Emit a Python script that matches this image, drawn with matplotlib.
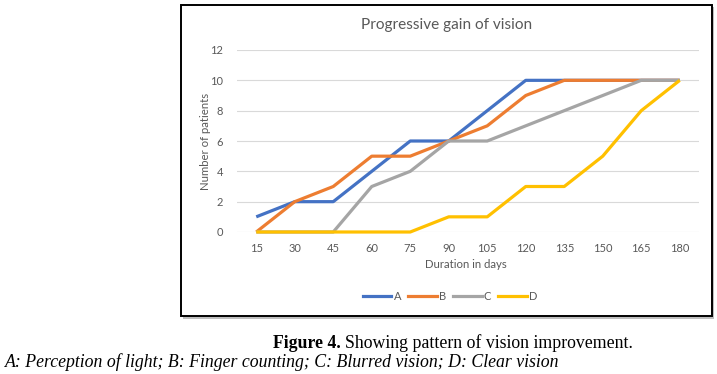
import matplotlib
matplotlib.use("Agg")
import matplotlib.pyplot as plt
from matplotlib.patches import Rectangle
from matplotlib.lines import Line2D

days = [15, 30, 45, 60, 75, 90, 105, 120, 135, 150, 165, 180]
series_names = ["A", "B", "C", "D"]
A = [1, 2, 2, 4, 6, 6, 8, 10, 10, 10, 10, 10]
B = [0, 2, 3, 5, 5, 6, 7, 9, 10, 10, 10, 10]
C = [0, 0, 0, 3, 4, 6, 6, 7, 8, 9, 10, 10]
D = [0, 0, 0, 0, 0, 1, 1, 3, 3, 5, 8, 10]
colors = ["#4472C4", "#ED7D31", "#A5A5A5", "#FFC000"]
yticks = [0, 2, 4, 6, 8, 10, 12]

W, H = 717, 374
fig = plt.figure(figsize=(W / 100, H / 100), dpi=100)
fig.patch.set_facecolor("white")

def fx(px):
    return px / W

def fy(py):
    return 1 - py / H

# chart box with shadow
fig.patches.append(Rectangle((fx(183), fy(319)), fx(714) - fx(183), fy(7) - fy(319),
                             transform=fig.transFigure, facecolor="#BFBFBF", edgecolor="none", zorder=0))
fig.patches.append(Rectangle((fx(181), fy(316)), fx(712) - fx(181), fy(5) - fy(316),
                             transform=fig.transFigure, facecolor="white", edgecolor="black",
                             linewidth=1.4, zorder=1))

ax = fig.add_axes([fx(237), fy(232), fx(699) - fx(237), fy(50) - fy(232)])
ax.set_zorder(2)
ax.patch.set_alpha(0)

x = list(range(len(days)))
for name, vals, col in zip(series_names, [A, B, C, D], colors):
    ax.plot(x, vals, color=col, linewidth=2.3, label=name, solid_capstyle="butt",
            solid_joinstyle="round", zorder=3, clip_on=False)

ax.set_xlim(-0.5, len(days) - 0.5)
ax.set_ylim(0, 12)
ax.set_yticks(yticks)
ax.set_yticklabels([str(v) for v in yticks])
ax.set_xticks(x)
ax.set_xticklabels([str(d) for d in days])
ax.grid(axis="y", color="#D9D9D9", linewidth=0.8)
ax.set_axisbelow(True)
for s in ax.spines.values():
    s.set_visible(False)
ax.tick_params(axis="both", length=0, labelsize=8, labelcolor="#595959", labelfontfamily="Lato")
ax.tick_params(axis="y", pad=10)
ax.tick_params(axis="x", pad=8)

fig.text(fx(447), fy(25), "Progressive gain of vision", ha="center", va="center",
         fontsize=11.1, color="#595959", family="Lato")
fig.text(fx(205), fy(141), "Number of patients", ha="center", va="center", rotation=90,
         fontsize=8.2, color="#595959", family="Lato")
fig.text(fx(466), fy(265), "Duration in days", ha="center", va="center",
         fontsize=8.2, color="#595959", family="Lato")

handles = [Line2D([0], [0], color=c, linewidth=2.3) for c in colors]
leg = fig.legend(handles, series_names, loc="center", bbox_to_anchor=(fx(450), fy(296)),
                 ncol=4, frameon=False, handlelength=2.6, handletextpad=0.2, columnspacing=0.6,
                 prop={"family": "Lato", "size": 8})
for t in leg.get_texts():
    t.set_color("#595959")

cap1_bold = fig.text(fx(273), fy(343), "Figure 4.", ha="left", va="center", fontsize=12.8,
                     family="Liberation Serif", weight="bold", color="black")
fig.canvas.draw()
bb = cap1_bold.get_window_extent()
fig.text(bb.x1 / W + 4 / W, fy(343), "Showing pattern of vision improvement.", ha="left", va="center",
         fontsize=12.8, family="Liberation Serif", color="black")
fig.text(fx(5), fy(362), "A: Perception of light; B: Finger counting; C: Blurred vision; D: Clear vision",
         ha="left", va="center", fontsize=12.8, family="Liberation Serif", style="italic", color="black")

fig.savefig("out.png", dpi=100)
